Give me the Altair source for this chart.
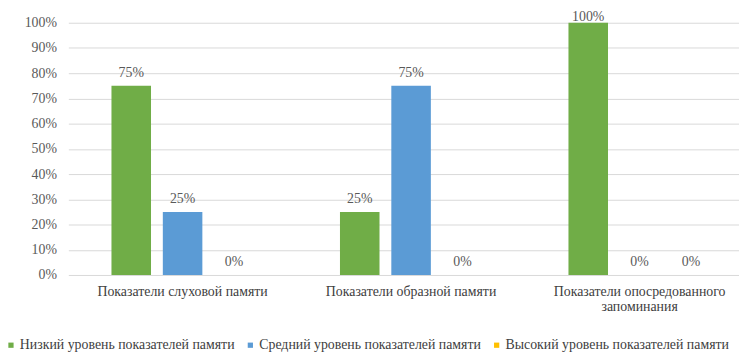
import altair as alt
import pandas as pd

categories = [
    "Показатели слуховой памяти",
    "Показатели образной памяти",
    "Показатели опосредованного запоминания",
]
series = [
    "Низкий уровень показателей памяти",
    "Средний уровень показателей памяти",
    "Высокий уровень показателей памяти",
]
low_values = [0.75, 0.25, 1.00]
mid_values = [0.25, 0.75, 0.00]
high_values = [0.00, 0.00, 0.00]
colors = ["#70AD47", "#5B9BD5", "#FFC000"]
y_ticks = [0, 0.1, 0.2, 0.3, 0.4, 0.5, 0.6, 0.7, 0.8, 0.9, 1.0]

rows = []
for s, vals in zip(series, [low_values, mid_values, high_values]):
    for c, v in zip(categories, vals):
        rows.append({"cat": c, "series": s, "value": v})
df = pd.DataFrame(rows)

FONT = "'Liberation Serif', 'Times New Roman', 'DejaVu Serif', serif"
GRAY = "#595959"
DARK = "#404040"

x = alt.X(
    "cat:N",
    sort=categories,
    scale=alt.Scale(paddingInner=0, paddingOuter=0),
    axis=alt.Axis(
        title=None,
        labelAngle=0,
        domain=False,
        ticks=False,
        labelPadding=10,
        labelFont=FONT,
        labelFontSize=14,
        labelColor=DARK,
        labelLimit=0,
        labelLineHeight=15,
        labelExpr="datum.label == 'Показатели опосредованного запоминания' ? ['Показатели опосредованного', 'запоминания'] : datum.label",
    ),
)
xo = alt.XOffset(
    "series:N",
    sort=series,
    scale=alt.Scale(paddingInner=0.23, paddingOuter=0.84),
)
y = alt.Y(
    "value:Q",
    scale=alt.Scale(domain=[0, 1], nice=False),
    axis=alt.Axis(
        title=None,
        values=y_ticks,
        format=".0%",
        domain=False,
        ticks=False,
        labelPadding=12,
        labelFont=FONT,
        labelFontSize=14,
        labelColor=GRAY,
        gridColor="#D9D9D9",
        gridWidth=1,
    ),
)

base = alt.Chart(df)

bars = base.mark_bar().encode(
    x=x,
    xOffset=xo,
    y=y,
    color=alt.Color(
        "series:N",
        sort=series,
        scale=alt.Scale(domain=series, range=colors),
        legend=alt.Legend(
            title=None,
            orient="none",
            direction="horizontal",
            legendX=-65,
            legendY=319,
            symbolType="square",
            symbolSize=28,
            symbolStrokeWidth=0,
            labelFont=FONT,
            labelFontSize=14,
            labelColor=DARK,
            labelOffset=2,
            columnPadding=8,
            labelLimit=0,
            padding=0,
        ),
    ),
)

labels_normal = (
    base.transform_filter("datum.value < 1")
    .mark_text(baseline="alphabetic", dy=-9, font=FONT, fontSize=14, color=GRAY)
    .encode(x=x, xOffset=xo, y=y, text=alt.Text("value:Q", format=".0%"))
)
labels_full = (
    base.transform_filter("datum.value >= 1")
    .mark_text(baseline="alphabetic", dy=-2, font=FONT, fontSize=14, color=GRAY)
    .encode(x=x, xOffset=xo, y=y, text=alt.Text("value:Q", format=".0%"))
)

chart = (
    alt.layer(bars, labels_normal, labels_full)
    .properties(
        width=693,
        height=255,
        autosize=alt.AutoSizeParams(type="none"),
        padding={"left": 61, "top": 13, "right": -15, "bottom": 79},
    )
    .configure_view(stroke=None)
)

chart.save("out.html", embed_options={"renderer": "svg", "actions": False})
